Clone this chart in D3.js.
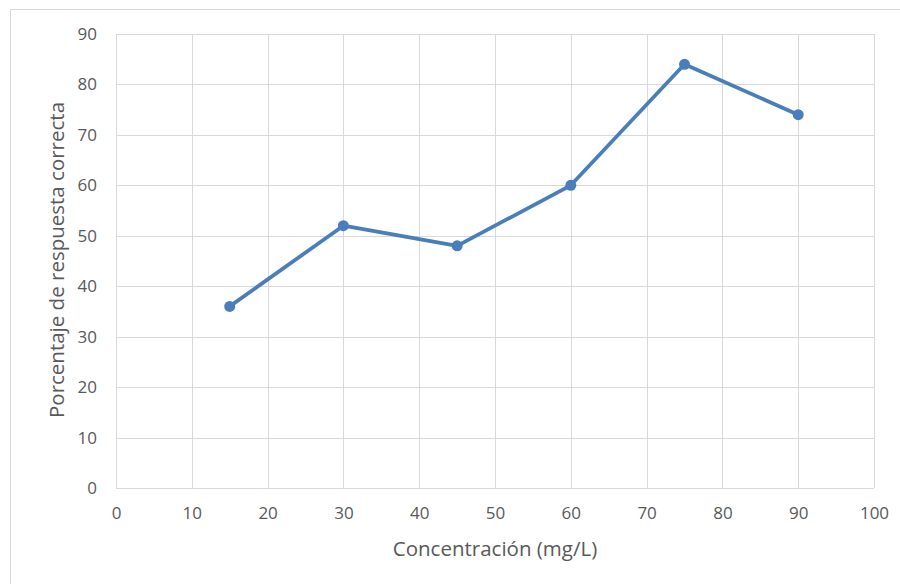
<!DOCTYPE html>
<html>
<head>
<meta charset="utf-8">
<script src="https://cdn.jsdelivr.net/npm/d3@7"></script>
<style>
  html, body { margin: 0; padding: 0; background: #fff; }
  svg { display: block; font-family: "Open Sans", "Noto Sans", sans-serif; }
</style>
</head>
<body>
<svg id="chart" width="900" height="584"></svg>
<script>
// Concentration (mg/L) vs. percentage of correct responses
const concentrations = [15, 30, 45, 60, 75, 90];
const correctPct = [36, 52, 48, 60, 84, 74];
const xTicks = [0, 10, 20, 30, 40, 50, 60, 70, 80, 90, 100];
const yTicks = [0, 10, 20, 30, 40, 50, 60, 70, 80, 90];

const svg = d3.select("#chart");
const plot = { left: 116, right: 874, top: 34, bottom: 488 };

// outer chart frame
svg.append("rect")
  .attr("x", 10.5).attr("y", 9.5)
  .attr("width", 900).attr("height", 600)
  .attr("fill", "#fff").attr("stroke", "#d9d9d9").attr("stroke-width", 1);

const x = d3.scaleLinear().domain([0, 100]).range([plot.left, plot.right]);
const y = d3.scaleLinear().domain([0, 90]).range([plot.bottom, plot.top]);

// gridlines
const grid = svg.append("g").attr("stroke", "#d9d9d9").attr("stroke-width", 1);
grid.selectAll("line.v").data(xTicks).join("line")
  .attr("x1", d => Math.round(x(d)) + 0.5).attr("x2", d => Math.round(x(d)) + 0.5)
  .attr("y1", plot.top).attr("y2", plot.bottom);
grid.selectAll("line.h").data(yTicks).join("line")
  .attr("x1", plot.left).attr("x2", plot.right)
  .attr("y1", d => Math.round(y(d)) + 0.5).attr("y2", d => Math.round(y(d)) + 0.5);

// axes (labels only, no tick marks)
const xAxis = svg.append("g")
  .attr("transform", `translate(0,${plot.bottom})`)
  .call(d3.axisBottom(x).tickValues(xTicks).tickSize(0).tickPadding(19));
const yAxis = svg.append("g")
  .attr("transform", `translate(${plot.left},0)`)
  .call(d3.axisLeft(y).tickValues(yTicks).tickSize(0).tickPadding(19));
[xAxis, yAxis].forEach(a => {
  a.select(".domain").remove();
  a.selectAll("text")
    .attr("fill", "#595959")
    .style("font-size", "17px")
    .style("font-family", "'Open Sans', 'Noto Sans', sans-serif");
});

// axis titles
svg.append("text")
  .attr("x", 495).attr("y", 556)
  .attr("text-anchor", "middle")
  .attr("fill", "#595959")
  .style("font-size", "20.5px")
  .text("Concentración (mg/L)");
svg.append("text")
  .attr("transform", "translate(64,260) rotate(-90)")
  .attr("text-anchor", "middle")
  .attr("fill", "#595959")
  .style("font-size", "20.5px")
  .text("Porcentaje de respuesta correcta");

// series
const data = concentrations.map((c, i) => ({ c, v: correctPct[i] }));
const line = d3.line().x(d => x(d.c)).y(d => y(d.v));
svg.append("path")
  .datum(data)
  .attr("d", line)
  .attr("fill", "none")
  .attr("stroke", "#4a7ebb")
  .attr("stroke-width", 3.75)
  .attr("stroke-linejoin", "round")
  .attr("stroke-linecap", "round");
svg.selectAll("circle.pt").data(data).join("circle")
  .attr("class", "pt")
  .attr("cx", d => x(d.c)).attr("cy", d => y(d.v))
  .attr("r", 5.5)
  .attr("fill", "#4a7ebb");
</script>
</body>
</html>
